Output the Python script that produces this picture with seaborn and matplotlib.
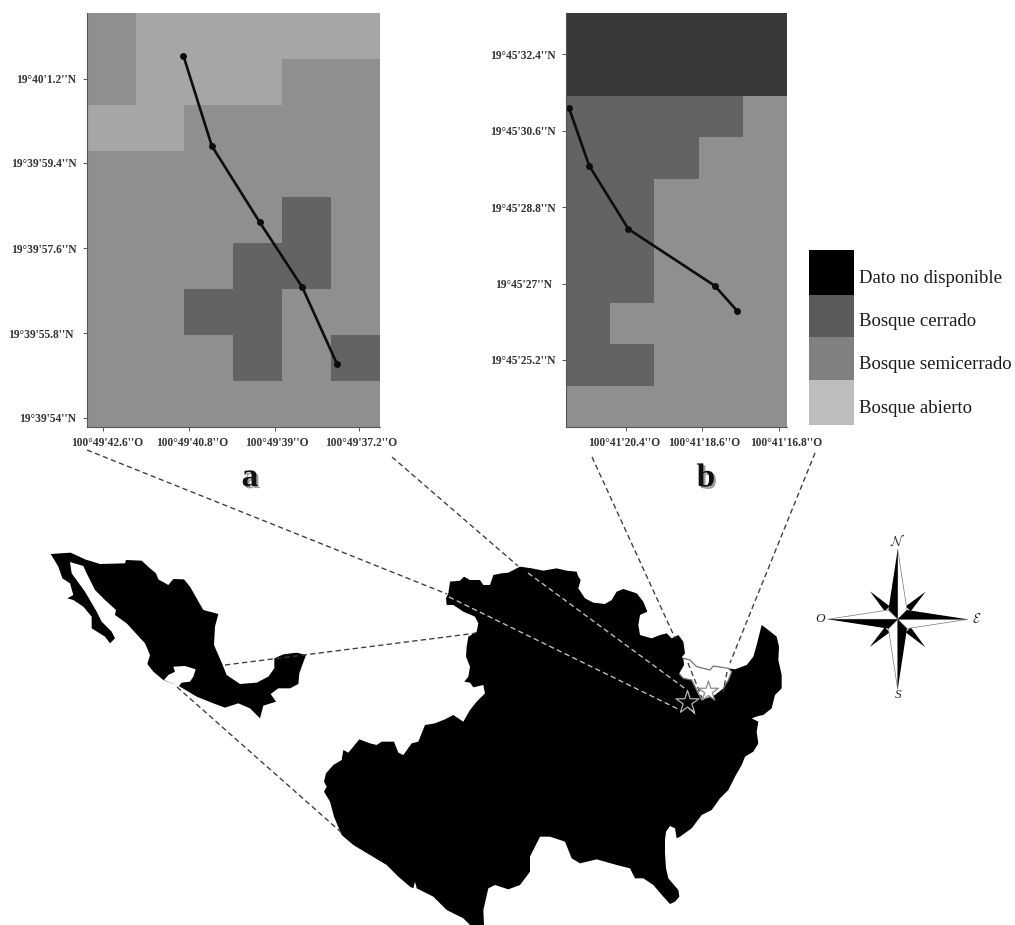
import numpy as np
import matplotlib
matplotlib.use("Agg")
import matplotlib.pyplot as plt
import matplotlib.patheffects as pe
from matplotlib.colors import ListedColormap
from matplotlib.transforms import ScaledTranslation
import seaborn as sns

# cover classes: 0 no data, 1 closed, 2 semi closed, 3 open
cover_a = [
    [2, 3, 3, 3, 3, 3],
    [2, 3, 3, 3, 2, 2],
    [3, 3, 2, 2, 2, 2],
    [2, 2, 2, 2, 2, 2],
    [2, 2, 2, 2, 1, 2],
    [2, 2, 2, 1, 1, 2],
    [2, 2, 1, 1, 2, 2],
    [2, 2, 2, 1, 2, 1],
    [2, 2, 2, 2, 2, 2],
]
cover_b = [
    [0, 0, 0, 0, 0],
    [0, 0, 0, 0, 0],
    [1, 1, 1, 1, 2],
    [1, 1, 1, 2, 2],
    [1, 1, 2, 2, 2],
    [1, 1, 2, 2, 2],
    [1, 1, 2, 2, 2],
    [1, 2, 2, 2, 2],
    [1, 1, 2, 2, 2],
    [2, 2, 2, 2, 2],
]
cover_colors = ["#383838", "#636363", "#8f8f8f", "#a6a6a6"]

# transects, in grid cells
path_a_col = [1.98, 2.56, 3.54, 4.41, 5.12]
path_a_row = [0.935, 2.89, 4.55, 5.96, 7.63]
path_b_col = [0.06, 0.52, 1.41, 3.37, 3.88]
path_b_row = [2.29, 3.69, 5.22, 6.59, 7.2]

# tick labels
a_xticks = [0.34, 2.09, 3.85, 5.58]
a_xlabels = ["100°49'42.6''O", "100°49'40.8''O", "100°49'39''O", "100°49'37.2''O"]
a_yticks = [1.43, 3.26, 5.11, 6.96, 8.8]
a_ylabels = ["19°40'1.2''N", "19°39'59.4''N", "19°39'57.6''N", "19°39'55.8''N", "19°39'54''N"]
b_xticks = [1.354, 3.085, 4.825]
b_xlabels = ["100°41'20.4''O", "100°41'18.6''O", "100°41'16.8''O"]
b_yticks = [0.998, 2.84, 4.69, 6.54, 8.38]
b_ylabels = ["19°45'32.4''N", "19°45'30.6''N", "19°45'28.8''N", "19°45'27''N", "19°45'25.2''N"]

# legend
legend_names = ["Dato no disponible", "Bosque cerrado", "Bosque semicerrado", "Bosque abierto"]
legend_colors = ["#000000", "#5a5a5a", "#808080", "#bdbdbd"]
legend_edges = [250.3, 294.7, 336.7, 379.7, 424.7]

mexico_crop = [
    (62, 42), (122, 38), (165, 58), (210, 72), (285, 70), (288, 60), (335, 62), (360, 85), (378, 100),
    (385, 118), (415, 135), (430, 117), (462, 118), (480, 140), (497, 170), (520, 210), (565, 222),
    (555, 260), (552, 315), (565, 345), (578, 375), (590, 405), (630, 432), (680, 428), (715, 410),
    (733, 385), (733, 355), (760, 343), (800, 338), (828, 345), (815, 380), (808, 400), (805, 432),
    (780, 445), (745, 445), (722, 462), (738, 485), (700, 497), (690, 535), (660, 505), (625, 490),
    (585, 503), (550, 490), (500, 470), (450, 440), (400, 420), (370, 395), (352, 372), (360, 345),
    (345, 310), (290, 250), (255, 225), (258, 210), (225, 180), (195, 150), (170, 100), (160, 78),
    (120, 66), (125, 100), (165, 155), (200, 215), (215, 245), (245, 275), (255, 295), (240, 310),
    (225, 290), (185, 265), (185, 230), (160, 200), (130, 180), (112, 175), (130, 165), (120, 130),
    (97, 115), (85, 80),
]
mexico_hole_crop = [
    (430, 380), (465, 378), (497, 388), (490, 410), (480, 425), (455, 428), (445, 440), (425, 430),
    (402, 420), (415, 405), (435, 395),
]
state_crop = [
    (420, 95), (450, 92), (462, 80), (480, 90), (510, 90), (520, 105), (540, 105), (550, 75), (575, 70),
    (595, 68), (630, 50), (665, 55), (700, 62), (740, 55), (770, 62), (800, 65), (805, 80), (812, 90),
    (805, 115), (825, 145), (850, 158), (885, 162), (905, 150), (920, 125), (940, 117), (980, 130),
    (1000, 155), (1012, 185), (990, 195), (985, 225), (990, 255), (1025, 265), (1050, 255), (1070, 250),
    (1085, 265), (1105, 255), (1120, 275), (1125, 310), (1115, 322), (1140, 330), (1160, 350), (1200, 360),
    (1210, 348), (1255, 355), (1275, 358), (1310, 345), (1330, 320), (1340, 285), (1355, 225), (1375, 240),
    (1400, 260), (1407, 290), (1405, 330), (1415, 375), (1415, 415), (1395, 435), (1385, 475), (1360, 495),
    (1345, 498), (1325, 505), (1345, 515), (1340, 545), (1345, 580), (1330, 605), (1305, 620), (1295, 645),
    (1275, 680), (1255, 720), (1230, 745), (1205, 780), (1175, 795), (1145, 835), (1110, 860), (1100, 865),
    (1095, 835), (1080, 828), (1068, 845), (1065, 870), (1065, 910), (1068, 955), (1075, 985), (1105, 1020),
    (1108, 1040), (1095, 1055), (1080, 1062), (1060, 1040), (1030, 1005), (1000, 985), (975, 985), (960, 955),
    (920, 945), (860, 928), (810, 940), (785, 925), (765, 875), (720, 860), (690, 860), (660, 920),
    (660, 965), (630, 1005), (595, 1018), (555, 1005), (535, 1015), (520, 1080), (522, 1125), (480, 1125),
    (460, 1105), (410, 1080), (370, 1040), (320, 1015), (315, 995), (310, 1015), (300, 1010), (265, 980),
    (230, 945), (180, 915), (130, 885), (95, 855), (72, 800), (60, 755), (42, 725), (50, 710), (42, 695),
    (48, 670), (70, 645), (95, 630), (100, 600), (115, 608), (130, 590), (148, 568), (180, 580), (200, 585),
    (215, 575), (252, 575), (265, 608), (280, 615), (305, 580), (325, 575), (335, 550), (345, 525),
    (375, 520), (405, 508), (430, 495), (460, 515), (480, 480), (500, 455), (525, 430), (520, 405),
    (490, 412), (480, 398), (463, 395), (475, 380), (480, 350), (468, 320), (470, 290), (475, 260),
    (500, 245), (505, 220), (495, 200), (460, 185), (430, 165), (410, 165), (408, 145), (415, 130),
]
notch_crop = [
    (1120, 325), (1140, 330), (1160, 350), (1200, 360), (1210, 348), (1255, 355), (1265, 365), (1255, 390),
    (1240, 415), (1215, 435), (1175, 450), (1160, 420), (1145, 390), (1120, 385), (1108, 370), (1122, 345),
]
notch_top_crop = [
    (1120, 325), (1140, 330), (1160, 350), (1200, 360), (1210, 348), (1255, 355), (1265, 365), (1255, 390),
    (1240, 415),
]
notch_low_crop = [(1108, 372), (1120, 385), (1145, 390), (1160, 420), (1175, 450)]
spike_crop = [(1135, 475), (1157, 495), (1145, 470)]
site_stars_crop = [(1130, 455), (1195, 423)]

# dashed guides in picture pixels
guides_dark = [
    [(225, 665), (477, 633)],
    [(177, 687), (342, 833)],
    [(87, 450), (447, 594)],
    [(392, 457), (518, 566)],
    [(592, 457), (675, 638)],
    [(688, 663), (702, 698)],
    [(815, 453), (730, 663)],
    [(727, 672), (723, 692)],
]
guides_light = [
    [(449, 597), (680, 710)],
    [(528, 573), (687, 690)],
]

# compass, offsets in pixels from its centre
compass_center = (897.7, 619.3)
compass_arm = 70
compass_base = 9.3
compass_petal = [(8, -13), (28, -27.7), (13, -8)]
compass_letters = [(r"$\mathcal{N}$", 0, -78), (r"$\mathcal{E}$", 79, 0), ("S", 0, 76), ("O", -78, 0)]

sns.set_theme(style="white")
plt.rcParams["font.family"] = ["Liberation Serif", "DejaVu Serif"]
plt.rcParams["mathtext.fontset"] = "cm"

W, H = 1015, 925


def crop_to_px(points):
    pts = np.array(points, dtype=float)
    return np.column_stack([310 + pts[:, 0] / 3, 550 + pts[:, 1] / 3])


def panel_axes(fig, left, top, right, bottom):
    return fig.add_axes([left / W, 1 - bottom / H, (right - left) / W, (bottom - top) / H])


def draw_panel(ax, cover, path_col, path_row, xticks, xlabels, yticks, ylabels, x_shift, y_shift):
    cmap = ListedColormap(cover_colors)
    sns.heatmap(np.array(cover), ax=ax, cmap=cmap, vmin=-0.5, vmax=3.5, cbar=False,
                xticklabels=False, yticklabels=False, linewidths=0)
    sns.lineplot(x=path_col, y=path_row, ax=ax, sort=False, estimator=None, color="#0d0d0d",
                 linewidth=1.9, marker="o", markersize=5, markeredgewidth=0)
    ax.set_xticks(xticks)
    ax.set_xticklabels(xlabels, fontsize=8.3, fontweight="bold", color="#333333")
    ax.set_yticks(yticks)
    ax.set_yticklabels(ylabels, fontsize=8.3, fontweight="bold", color="#333333")
    ax.tick_params(axis="both", length=3, width=0.7, color="#555555", pad=4.5,
                   bottom=True, left=True)
    for spine in ["top", "right"]:
        ax.spines[spine].set_visible(False)
    for spine in ["left", "bottom"]:
        ax.spines[spine].set_visible(True)
        ax.spines[spine].set_color("#555555")
        ax.spines[spine].set_linewidth(0.8)
    # the labels sit slightly off their ticks in the original
    for label, dx in zip(ax.get_xticklabels(), x_shift):
        label.set_transform(label.get_transform() + ScaledTranslation(dx / 100, 0, fig.dpi_scale_trans))
    for label, dx in zip(ax.get_yticklabels(), y_shift):
        label.set_transform(label.get_transform() + ScaledTranslation(dx / 100, 0, fig.dpi_scale_trans))


fig = plt.figure(figsize=(W / 100, H / 100), dpi=100, facecolor="white")

#-------------------------------------------
# Cover panels
#-------------------------------------------
ax_a = panel_axes(fig, 86.7, 13, 380, 427)
draw_panel(ax_a, cover_a, path_a_col, path_a_row, a_xticks, a_xlabels, a_yticks, a_ylabels,
           [4, 3, 2, 2], [0, 0, 0, -3, 0])
ax_b = panel_axes(fig, 566.3, 13, 786.7, 427)
draw_panel(ax_b, cover_b, path_b_col, path_b_row, b_xticks, b_xlabels, b_yticks, b_ylabels,
           [-2, 2, 7], [0, 0, 0, -4, 0])

#-------------------------------------------
# Overlay in picture pixels: legend, maps, compass
#-------------------------------------------
over = fig.add_axes([0, 0, 1, 1])
over.set_xlim(0, W)
over.set_ylim(H, 0)
over.axis("off")
over.patch.set_alpha(0)

tops = np.array(legend_edges[:-1])
heights = np.diff(legend_edges)
over.bar(x=831.3, width=44.7, bottom=tops, height=heights, color=legend_colors, linewidth=0)
for name, top, height in zip(legend_names, tops, heights):
    over.text(859, top + height / 2 + 6, name, fontsize=13.5, color="#1a1a1a", va="center", ha="left")

over.text(250, 477.5, "a", fontsize=24, fontweight="bold", color="#111111", ha="center", va="center",
          path_effects=[pe.withSimplePatchShadow(offset=(1.5, -1.5), alpha=0.4)])
over.text(706, 478, "b", fontsize=24, fontweight="bold", color="#111111", ha="center", va="center",
          path_effects=[pe.withSimplePatchShadow(offset=(1.5, -1.5), alpha=0.4)])

mexico = np.array(mexico_crop, dtype=float) / 3 + [30, 540]
hole = np.array(mexico_hole_crop, dtype=float) / 3 + [30, 540]
over.fill(mexico[:, 0], mexico[:, 1], color="black", linewidth=0)
over.fill(hole[:, 0], hole[:, 1], color="white", linewidth=0)

state = crop_to_px(state_crop)
over.fill(state[:, 0], state[:, 1], color="black", linewidth=0)
notch = crop_to_px(notch_crop)
over.fill(notch[:, 0], notch[:, 1], color="white", linewidth=0)
spike = crop_to_px(spike_crop)
over.fill(spike[:, 0], spike[:, 1], color="white", linewidth=0)
for part in [notch_top_crop, notch_low_crop]:
    line = crop_to_px(part)
    over.plot(line[:, 0], line[:, 1], color="#777777", lw=0.9)

for seg in guides_dark:
    xy = np.array(seg)
    over.plot(xy[:, 0], xy[:, 1], color="#3a3a3a", lw=0.95, linestyle=(0, (4, 2.5)))
for seg in guides_light:
    xy = np.array(seg)
    over.plot(xy[:, 0], xy[:, 1], color="#c4c4c4", lw=0.95, linestyle=(0, (4, 2.5)))

stars = crop_to_px(site_stars_crop)
over.scatter(stars[0, 0], stars[0, 1], marker="*", s=300, color="black", edgecolor="#b5b5b5", linewidth=0.9, zorder=4)
over.scatter(stars[1, 0], stars[1, 1], marker="*", s=230, color="white", edgecolor="#8a8a8a", linewidth=0.9, zorder=4)

cx, cy = compass_center
for turn in range(4):
    a = np.deg2rad(90 * turn)
    rot = np.array([[np.cos(a), -np.sin(a)], [np.sin(a), np.cos(a)]])
    petal = np.array(compass_petal) @ rot.T + [cx, cy]
    over.fill(petal[:, 0], petal[:, 1], color="black", linewidth=0)
for turn in range(4):
    a = np.deg2rad(90 * turn)
    rot = np.array([[np.cos(a), -np.sin(a)], [np.sin(a), np.cos(a)]])
    dark = np.array([(0, 0), (0, -compass_arm), (-compass_base, -compass_base)]) @ rot.T + [cx, cy]
    pale = np.array([(0, 0), (0, -compass_arm), (compass_base, -compass_base)]) @ rot.T + [cx, cy]
    over.fill(pale[:, 0], pale[:, 1], facecolor="white", edgecolor="#777777", linewidth=0.5)
    over.fill(dark[:, 0], dark[:, 1], color="black", linewidth=0)
for letter, dx, dy in compass_letters:
    over.text(cx + dx, cy + dy, letter, fontsize=9.5, style="italic", color="#222222", ha="center", va="center")

fig.savefig("out.png", dpi=100)
